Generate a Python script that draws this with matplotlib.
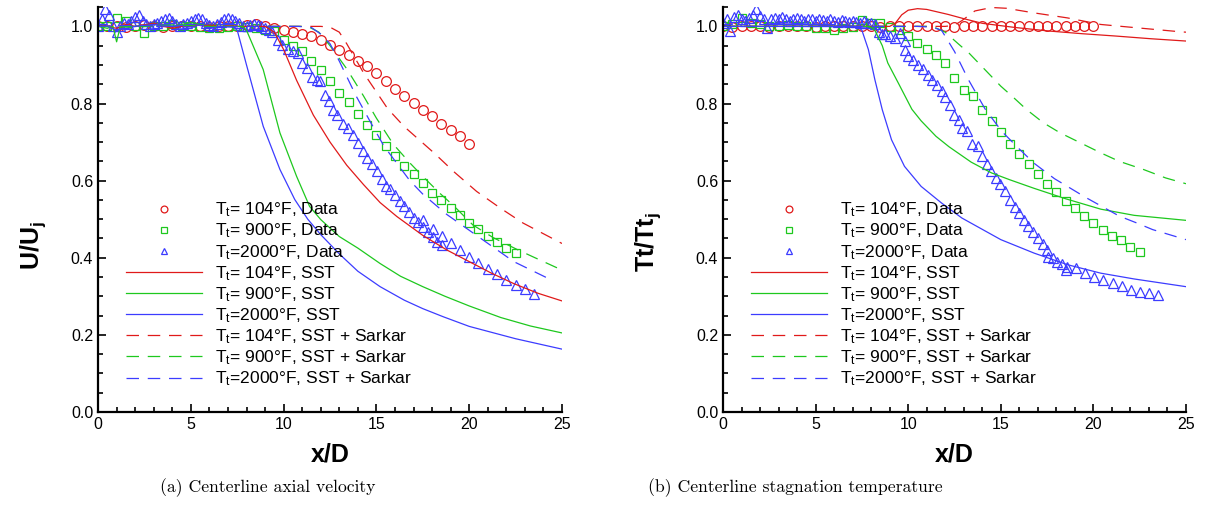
import matplotlib
matplotlib.use("Agg")
import matplotlib.pyplot as plt
from matplotlib.ticker import MultipleLocator, FormatStrFormatter

plt.rcParams["font.family"] = ["Liberation Sans", "DejaVu Sans"]
plt.rcParams["mathtext.fontset"] = "custom"
plt.rcParams["mathtext.rm"] = "Liberation Sans"
plt.rcParams["mathtext.it"] = "Liberation Sans:italic"
plt.rcParams["mathtext.bf"] = "Liberation Sans:bold"

RED, GREEN, BLUE = "#e01a1a", "#1ec81e", "#3c3cff"

# ---------------- (a) centerline axial velocity ----------------
# measured data
a_red_x = [i * 0.5 for i in range(41)]
a_red_y = [1.0, 1.0, 1.002, 0.998, 1.0, 1.003, 1.0, 0.998, 1.0, 1.002, 1.0, 1.0, 0.998,
           1.0, 1.002, 1.0, 1.003, 1.005, 1.001, 0.996, 0.99, 0.986, 0.981, 0.975, 0.965,
           0.951, 0.939, 0.927, 0.91, 0.897, 0.878, 0.858, 0.838, 0.819, 0.802, 0.784,
           0.767, 0.748, 0.732, 0.715, 0.694]
a_grn_x = [i * 0.5 for i in range(46)]
a_grn_y = [1.0, 1.0, 1.022, 1.013, 1.0, 0.984, 1.0, 1.0, 1.005, 1.0, 1.0, 0.998, 0.996,
           0.997, 0.998, 1.0, 0.998, 0.995, 0.99, 0.988, 0.966, 0.949, 0.936, 0.91, 0.887,
           0.858, 0.826, 0.804, 0.774, 0.745, 0.719, 0.689, 0.663, 0.639, 0.616, 0.594,
           0.568, 0.549, 0.529, 0.51, 0.49, 0.475, 0.457, 0.442, 0.425, 0.412]
a_blu_x = [0.0, 0.2, 0.4, 0.6, 0.8, 1.0, 1.2, 1.4, 1.6, 1.8, 2.0, 2.2, 2.4, 2.6, 2.8,
           3.0, 3.2, 3.4, 3.6, 3.8, 4.0, 4.2, 4.4, 4.6, 4.8, 5.0, 5.2, 5.4, 5.6, 5.8,
           6.0, 6.2, 6.4, 6.6, 6.8, 7.0, 7.2, 7.4, 7.6, 7.8, 8.0, 8.2, 8.4, 8.6, 8.8,
           9.0, 9.2, 9.4, 9.72, 9.9, 10.25, 10.52, 10.79, 10.97, 11.24, 11.51, 11.78,
           11.96, 12.23, 12.47, 12.68, 12.86, 13.22, 13.49, 13.76, 14.03, 14.26, 14.51,
           14.75, 15.01, 15.28, 15.51, 15.73, 16.0, 16.27, 16.5, 16.77, 17.03, 17.26,
           17.53, 17.53, 17.76, 18.03, 18.03, 18.25, 18.52, 18.52, 19.0, 19.5, 20.0,
           20.5, 21.0, 21.5, 22.0, 22.5, 23.0, 23.5]
a_blu_y = [1.0, 1.02, 1.045, 1.03, 1.0, 0.985, 1.0, 1.01, 1.005, 1.015, 1.025, 1.03,
           1.015, 1.005, 1.0, 1.005, 1.01, 1.015, 1.02, 1.022, 1.015, 1.005, 1.0, 1.005,
           1.01, 1.015, 1.02, 1.022, 1.018, 1.01, 1.003, 1.0, 1.005, 1.012, 1.018, 1.022,
           1.02, 1.015, 1.008, 1.002, 1.0, 1.003, 1.006, 1.004, 1.0, 0.995, 0.99, 0.985,
           0.966, 0.953, 0.942, 0.936, 0.93, 0.906, 0.892, 0.869, 0.862, 0.858, 0.823,
           0.806, 0.784, 0.771, 0.748, 0.737, 0.719, 0.698, 0.676, 0.659, 0.642, 0.624,
           0.605, 0.587, 0.577, 0.564, 0.546, 0.534, 0.518, 0.503, 0.494, 0.499, 0.481,
           0.468, 0.475, 0.454, 0.442, 0.456, 0.432, 0.439, 0.42, 0.402, 0.387, 0.371,
           0.358, 0.343, 0.33, 0.319, 0.306]

# SST
a_sst_red_x = [0, 0.5, 1.0, 1.5, 2, 3, 4, 5, 6, 7, 8, 9.0, 9.5, 10.0, 10.7, 11.6, 12.5,
               13.4, 14.3, 15.2, 16.1, 17.5, 18.8, 20, 21.2, 22.4, 23.7, 25]
a_sst_red_y = [1.0, 1.0, 0.995, 1.005, 1.0, 1.008, 0.995, 1.005, 1.0, 1.0, 1.0, 1.0,
               0.985, 0.94, 0.86, 0.77, 0.70, 0.64, 0.59, 0.543, 0.507, 0.458, 0.42,
               0.39, 0.36, 0.333, 0.308, 0.288]
a_sst_grn_x = [0, 0.5, 0.8, 1.0, 1.2, 2, 3, 4, 5, 6, 7, 7.8, 8.0, 8.9, 9.8, 10.7, 11.4,
               12.0, 13.0, 14.0, 15.2, 16.3, 17.5, 18.7, 20, 21.7, 23.3, 25]
a_sst_grn_y = [1.0, 0.995, 1.0, 0.96, 1.0, 1.0, 1.005, 1.0, 1.01, 1.0, 1.0, 1.0, 0.99,
               0.888, 0.724, 0.611, 0.533, 0.499, 0.455, 0.425, 0.385, 0.352, 0.325,
               0.30, 0.275, 0.245, 0.223, 0.205]
a_sst_blu_x = [0, 0.5, 1, 2, 3, 4, 5, 6, 7.0, 7.3, 7.5, 8.0, 8.9, 9.8, 10.6, 11.3, 12.0,
               13.0, 14.0, 15.2, 16.5, 17.5, 18.6, 20, 22.5, 25]
a_sst_blu_y = [1.0, 1.0, 0.99, 1.0, 1.005, 1.0, 1.005, 1.0, 1.0, 0.998, 0.99, 0.90,
               0.741, 0.629, 0.551, 0.50, 0.46, 0.41, 0.365, 0.325, 0.29, 0.268, 0.247,
               0.222, 0.19, 0.163]
# SST + Sarkar
a_sar_red_x = [0, 2, 4, 6, 8, 10, 12, 12.5, 13.0, 13.4, 14.3, 15.0, 15.6, 16.5, 17.3,
               18.1, 19.2, 20.4, 21.7, 22.9, 25]
a_sar_red_y = [1.0, 1.005, 0.998, 1.003, 1.0, 1.0, 1.0, 0.998, 0.985, 0.955, 0.88,
               0.83, 0.787, 0.74, 0.706, 0.672, 0.622, 0.572, 0.528, 0.49, 0.437]
a_sar_grn_x = [0, 2, 4, 6, 8, 10, 11.3, 11.9, 12.5, 13.4, 14.3, 15.0, 15.9, 16.8, 17.5,
               18.4, 19.2, 20.2, 21.3, 22.6, 23.5, 25]
a_sar_grn_y = [1.0, 0.998, 1.004, 1.0, 1.0, 1.0, 1.0, 0.985, 0.95, 0.89, 0.82, 0.762,
               0.695, 0.646, 0.611, 0.568, 0.533, 0.485, 0.452, 0.421, 0.401, 0.368]
a_sar_blu_x = [0, 2, 4, 6, 8, 10, 10.8, 11.5, 12.0, 12.5, 13.0, 13.9, 14.7, 15.4, 16.1,
               16.8, 17.5, 18.8, 20.6, 22.4, 24.4]
a_sar_blu_y = [1.0, 1.003, 1.0, 0.997, 1.0, 1.0, 1.0, 0.997, 0.98, 0.955, 0.91, 0.82,
               0.75, 0.69, 0.645, 0.60, 0.565, 0.512, 0.451, 0.39, 0.343]

# ---------------- (b) centerline stagnation temperature ----------------
b_red_x = [i * 0.5 for i in range(41)]
b_red_y = [1.0, 0.999, 1.0, 1.001, 1.0, 0.999, 1.0, 1.0, 1.001, 1.0, 0.999, 1.0, 1.0,
           1.0, 1.001, 1.0, 1.0, 0.999, 1.0, 1.0, 1.0, 1.0, 1.001, 1.0, 1.0, 0.999, 1.0,
           1.0, 1.0, 1.0, 1.0, 1.0, 1.0, 1.0, 1.0, 1.0, 1.0, 1.0, 1.0, 1.0, 1.0]
b_grn_x = [i * 0.5 for i in range(46)]
b_grn_y = [1.0, 1.005, 1.022, 1.01, 1.005, 1.0, 1.0, 1.003, 1.0, 1.0, 0.997, 0.995,
           0.99, 0.995, 0.998, 1.017, 1.01, 1.008, 0.999, 0.99, 0.975, 0.958, 0.942,
           0.925, 0.905, 0.867, 0.836, 0.819, 0.784, 0.754, 0.727, 0.696, 0.668, 0.642,
           0.618, 0.592, 0.57, 0.547, 0.529, 0.509, 0.49, 0.473, 0.457, 0.447, 0.429,
           0.415]
b_blu_x = [0.0, 0.2, 0.4, 0.6, 0.8, 1.0, 1.2, 1.4, 1.6, 1.8, 2.0, 2.2, 2.4, 2.6, 2.8,
           3.0, 3.2, 3.4, 3.6, 3.8, 4.0, 4.2, 4.4, 4.6, 4.8, 5.0, 5.2, 5.4, 5.6, 5.8,
           6.0, 6.2, 6.4, 6.6, 6.8, 7.0, 7.2, 7.4, 7.6, 7.8, 8.0, 8.2, 8.4, 8.6, 8.75,
           9.02, 9.29, 9.56, 9.83, 9.83, 10.0, 10.27, 10.54, 10.81, 11.08, 11.3, 11.54,
           11.81, 11.99, 12.26, 12.5, 12.72, 12.9, 13.17, 13.47, 13.76, 13.97, 14.24,
           14.47, 14.72, 14.96, 15.23, 15.5, 15.77, 16.0, 16.25, 16.49, 16.76, 17.03,
           17.26, 17.48, 17.57, 17.84, 18.02, 18.29, 18.52, 18.56, 19.06, 19.55, 20.05,
           20.54, 21.04, 21.53, 22.03, 22.51, 23.01, 23.5]
b_blu_y = [1.01, 1.02, 0.988, 1.025, 1.03, 1.02, 1.015, 1.022, 1.03, 1.044, 1.028, 1.02,
           0.995, 1.018, 1.022, 1.02, 1.025, 1.018, 1.015, 1.02, 1.022, 1.018, 1.015,
           1.02, 1.018, 1.015, 1.02, 1.016, 1.014, 1.018, 1.015, 1.012, 1.016, 1.014,
           1.012, 1.015, 1.012, 1.01, 1.013, 1.01, 1.008, 1.005, 0.985, 0.98, 0.979,
           0.975, 0.97, 0.984, 0.962, 0.94, 0.923, 0.913, 0.901, 0.89, 0.875, 0.862,
           0.849, 0.832, 0.817, 0.797, 0.771, 0.758, 0.737, 0.728, 0.696, 0.691, 0.663,
           0.642, 0.624, 0.607, 0.59, 0.572, 0.551, 0.532, 0.516, 0.499, 0.483, 0.466,
           0.451, 0.436, 0.421, 0.403, 0.399, 0.39, 0.384, 0.367, 0.377, 0.373, 0.36,
           0.351, 0.343, 0.334, 0.327, 0.317, 0.312, 0.308, 0.304]

b_sst_red_x = [0, 2, 4, 6, 8, 9.0, 9.3, 9.65, 10.0, 10.5, 11.0, 12.16, 13.0, 14.0, 15.8,
               17.6, 19.4, 21.2, 23.1, 25]
b_sst_red_y = [1.0, 1.0, 1.0, 1.0, 1.0, 1.0, 1.008, 1.03, 1.042, 1.046, 1.044, 1.031,
               1.02, 1.008, 0.997, 0.988, 0.981, 0.975, 0.968, 0.962]
b_sst_grn_x = [0, 2, 4, 6, 7.9, 8.2, 8.6, 8.9, 9.5, 10.2, 10.7, 11.5, 12.2, 13.4, 14.5,
               15.5, 16.8, 18.5, 20.4, 22.2, 25]
b_sst_grn_y = [1.0, 1.0, 1.0, 1.0, 1.0, 0.99, 0.95, 0.905, 0.85, 0.785, 0.755, 0.715,
               0.688, 0.648, 0.62, 0.602, 0.58, 0.553, 0.526, 0.51, 0.497]
b_sst_blu_x = [0, 2, 4, 6, 7.0, 7.3, 7.5, 7.85, 8.2, 8.6, 9.1, 9.8, 10.7, 11.8, 12.9,
               15.0, 16.8, 18.6, 20.4, 22.2, 25]
b_sst_blu_y = [1.0, 1.0, 1.0, 1.0, 1.0, 0.998, 0.99, 0.94, 0.862, 0.784, 0.706, 0.637,
               0.585, 0.542, 0.503, 0.447, 0.412, 0.382, 0.36, 0.345, 0.325]
b_sar_red_x = [0, 2, 4, 6, 8, 10, 12.0, 12.5, 12.9, 13.6, 14.5, 15.3, 16.8, 18.6, 20.4,
               22.2, 24.7, 25]
b_sar_red_y = [1.0, 1.0, 1.0, 1.0, 1.0, 1.0, 1.0, 1.003, 1.015, 1.04, 1.049, 1.047,
               1.035, 1.022, 1.005, 0.997, 0.986, 0.985]
b_sar_grn_x = [0, 2, 4, 6, 8, 10, 11.3, 12.0, 12.7, 13.3, 14.0, 15.0, 15.7, 16.4, 17.3,
               18.2, 19.3, 20.4, 21.4, 22.7, 23.9, 25]
b_sar_grn_y = [1.0, 1.0, 1.0, 1.0, 1.0, 1.0, 1.0, 0.985, 0.955, 0.93, 0.895, 0.845,
               0.815, 0.784, 0.75, 0.724, 0.698, 0.672, 0.65, 0.629, 0.607, 0.592]
b_sar_blu_x = [0, 2, 4, 6, 8, 10, 10.5, 11.3, 11.8, 12.5, 13.25, 14.15, 15.05, 16.0,
               16.8, 17.9, 18.7, 19.6, 20.5, 21.4, 22.3, 23.2, 24.1, 25]
b_sar_blu_y = [1.0, 1.0, 1.0, 1.0, 1.0, 1.0, 1.0, 0.998, 0.99, 0.935, 0.862, 0.786,
               0.728, 0.682, 0.645, 0.605, 0.582, 0.556, 0.532, 0.508, 0.491, 0.473,
               0.46, 0.447]

labels = [r"T$_\mathrm{t}$= 104°F, Data", r"T$_\mathrm{t}$= 900°F, Data",
          r"T$_\mathrm{t}$=2000°F, Data", r"T$_\mathrm{t}$= 104°F, SST",
          r"T$_\mathrm{t}$= 900°F, SST", r"T$_\mathrm{t}$=2000°F, SST",
          r"T$_\mathrm{t}$= 104°F, SST + Sarkar", r"T$_\mathrm{t}$= 900°F, SST + Sarkar",
          r"T$_\mathrm{t}$=2000°F, SST + Sarkar"]


def panel(ax, data, sst, sar, ylabel, ylab_x, ylab_y):
    mk = [("o", 7.0), ("s", 6.0), ("^", 7.0)]
    for (x, y), c, (m, s), lab in zip(data, (RED, GREEN, BLUE), mk, labels[:3]):
        ax.plot(x, y, ls="none", marker=m, ms=s, mfc="none", mec=c, mew=0.9, label=lab)
    for (x, y), c, lab in zip(sst, (RED, GREEN, BLUE), labels[3:6]):
        ax.plot(x, y, color=c, lw=0.9, label=lab)
    for (x, y), c, lab in zip(sar, (RED, GREEN, BLUE), labels[6:]):
        ax.plot(x, y, color=c, lw=0.9, dashes=(10, 7), label=lab)

    ax.set_xlim(0, 25)
    ax.set_ylim(0, 1.05)
    ax.xaxis.set_major_locator(MultipleLocator(5))
    ax.xaxis.set_minor_locator(MultipleLocator(1))
    ax.yaxis.set_major_locator(MultipleLocator(0.2))
    ax.yaxis.set_minor_locator(MultipleLocator(0.05))
    ax.yaxis.set_major_formatter(FormatStrFormatter("%.1f"))
    for s in ("top", "right"):
        ax.spines[s].set_visible(False)
    for s in ("left", "bottom"):
        ax.spines[s].set_linewidth(1.6)
    ax.tick_params(which="both", direction="in", labelsize=11.5, width=1.2)
    ax.tick_params(which="major", length=6)
    ax.tick_params(which="minor", length=3.5)
    ax.set_xlabel("x/D", fontsize=18, fontweight="bold")
    ax.set_ylabel(ylabel, fontsize=18)
    ax.yaxis.set_label_coords(ylab_x, ylab_y)
    ax.xaxis.set_label_coords(0.5, -0.075)
    ax.legend(loc="upper left", bbox_to_anchor=(0.06, 0.522), frameon=False,
              fontsize=12.5, handlelength=4.4, handletextpad=0.75, labelspacing=0.14,
              borderpad=0, borderaxespad=0, markerscale=0.7)


fig = plt.figure(figsize=(12.06, 5.08), dpi=100)
ax1 = fig.add_axes([0.0813, 0.189, 0.3847, 0.797])
ax2 = fig.add_axes([0.5995, 0.189, 0.3839, 0.797])

panel(ax1,
      [(a_red_x, a_red_y), (a_grn_x, a_grn_y), (a_blu_x, a_blu_y)],
      [(a_sst_red_x, a_sst_red_y), (a_sst_grn_x, a_sst_grn_y), (a_sst_blu_x, a_sst_blu_y)],
      [(a_sar_red_x, a_sar_red_y), (a_sar_grn_x, a_sar_grn_y), (a_sar_blu_x, a_sar_blu_y)],
      r"$\mathbf{U/U_j}$", -0.108, 0.41)
panel(ax2,
      [(b_red_x, b_red_y), (b_grn_x, b_grn_y), (b_blu_x, b_blu_y)],
      [(b_sst_red_x, b_sst_red_y), (b_sst_grn_x, b_sst_grn_y), (b_sst_blu_x, b_sst_blu_y)],
      [(b_sar_red_x, b_sar_red_y), (b_sar_grn_x, b_sar_grn_y), (b_sar_blu_x, b_sar_blu_y)],
      r"$\mathbf{Tt/Tt_j}$", -0.13, 0.42)

fig.text(268 / 1206, 1 - 488 / 508, "(a) Centerline axial velocity", family="cmr10",
         fontsize=12.7, ha="center", va="center")
fig.text(795 / 1206, 1 - 488 / 508, "(b) Centerline stagnation temperature",
         family="cmr10", fontsize=12.7, ha="center", va="center")

fig.savefig("out.png", dpi=100)
